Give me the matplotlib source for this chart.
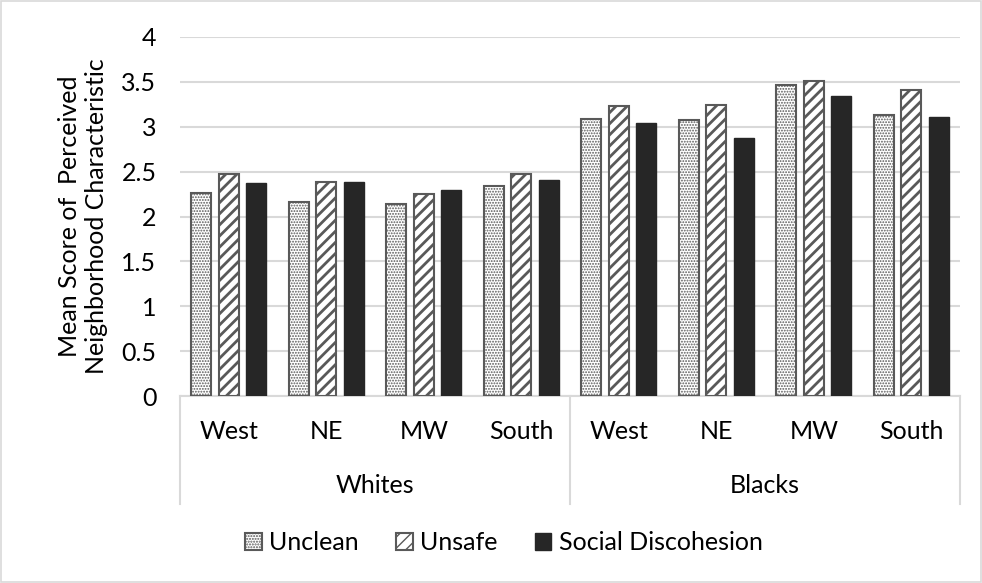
import matplotlib.pyplot as plt
import numpy as np
from matplotlib.patches import Rectangle

# data
groups = ["Whites", "Blacks"]
regions = ["West", "NE", "MW", "South"]
series = ["Unclean", "Unsafe", "Social Discohesion"]
unclean = [2.26, 2.16, 2.14, 2.34, 3.09, 3.07, 3.46, 3.13]
unsafe = [2.47, 2.385, 2.255, 2.47, 3.23, 3.24, 3.51, 3.41]
discohesion = [2.37, 2.38, 2.29, 2.41, 3.04, 2.88, 3.345, 3.11]
y_ticks = [0, 0.5, 1, 1.5, 2, 2.5, 3, 3.5, 4]

plt.rcParams["font.family"] = ["Lato", "DejaVu Sans"]
plt.rcParams["hatch.color"] = "#595959"
FS = 18

W, H = 982, 583
fig = plt.figure(figsize=(W / 100, H / 100), dpi=100)
fig.patch.set_facecolor("white")
fig.patches.append(Rectangle((0.001, 0.001), 0.998, 0.997, transform=fig.transFigure,
                             fill=False, edgecolor="#d9d9d9", linewidth=1.2))

left, right, top, bottom = 180, 960, 37, 396
ax = fig.add_axes([left / W, 1 - bottom / H, (right - left) / W, (bottom - top) / H])

n = len(unclean)
x = np.arange(n) + 0.5
bw = 0.205
pitch = 0.28
edge = "#595959"

with plt.rc_context({"hatch.linewidth": 0.9}):
    ax.bar(x - pitch, unclean, bw, facecolor="white", edgecolor=edge, hatch="......",
           linewidth=1.5, label=series[0], zorder=3)
with plt.rc_context({"hatch.linewidth": 2.0}):
    ax.bar(x, unsafe, bw, facecolor="white", edgecolor=edge, hatch="///",
           linewidth=1.5, label=series[1], zorder=3)
ax.bar(x + pitch, discohesion, bw, facecolor="#262626", edgecolor="#262626",
       linewidth=1.0, label=series[2], zorder=3)

ax.set_xlim(0, n)
ax.set_ylim(0, 4)
ax.set_yticks(y_ticks)
ax.set_yticklabels([f"{v:g}" for v in y_ticks], fontsize=FS)
ax.tick_params(axis="y", length=0, pad=17)
ax.set_xticks([])
ax.grid(axis="y", color="#d9d9d9", linewidth=1.5, zorder=0)
for s in ["top", "right", "left"]:
    ax.spines[s].set_visible(False)
ax.spines["bottom"].set_color("#d9d9d9")
ax.spines["bottom"].set_linewidth(1.5)

ax.set_ylabel("Mean Score of  Perceived\nNeighborhood Characteristic", fontsize=FS,
              labelpad=10, linespacing=1.2)

# category axis below the plot
trans = ax.get_xaxis_transform()
for i in range(n):
    ax.text(x[i], -0.1, regions[i % 4], transform=trans, ha="center", va="center",
            fontsize=FS)
for g, name in enumerate(groups):
    ax.text(g * 4 + 2, -0.25, name, transform=trans, ha="center", va="center",
            fontsize=FS)
for xs in [0, 4, 8]:
    ax.plot([xs, xs], [0, -0.30], transform=trans, color="#d9d9d9", linewidth=1.5,
            clip_on=False)

fig.legend(loc="center", bbox_to_anchor=(504 / W, 1 - 543 / H), ncol=3, frameon=False,
           fontsize=FS, handlelength=0.65, handleheight=0.65, handletextpad=0.3,
           columnspacing=1.5)

fig.savefig("out.png", dpi=100, facecolor=fig.get_facecolor())
